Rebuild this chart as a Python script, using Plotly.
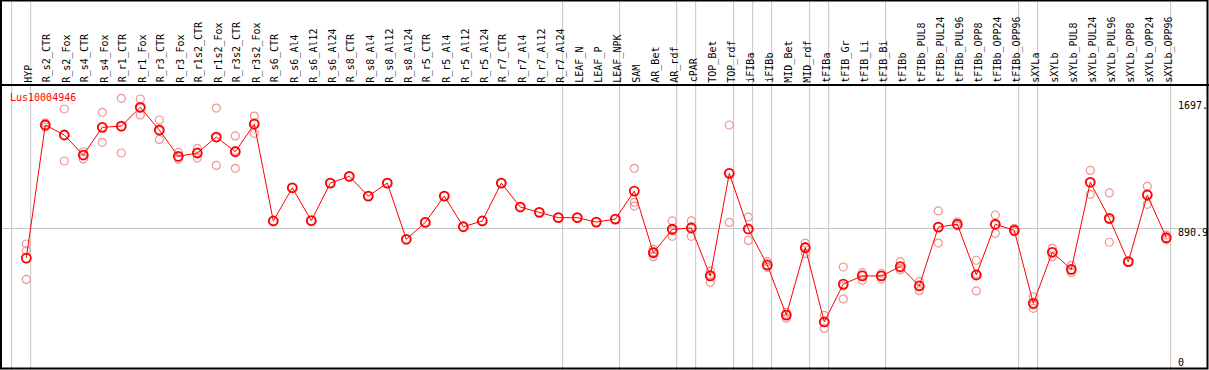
import plotly.graph_objects as go

W, H = 1209, 370

categories = ["HYP", "R_s2_CTR", "R_s2_Fox", "R_s4_CTR", "R_s4_Fox", "R_r1_CTR", "R_r1_Fox",
              "R_r3_CTR", "R_r3_Fox", "R_r1s2_CTR", "R_r1s2_Fox", "R_r3s2_CTR", "R_r3s2_Fox",
              "R_s6_CTR", "R_s6_Al4", "R_s6_Al12", "R_s6_Al24", "R_s8_CTR", "R_s8_Al4",
              "R_s8_Al12", "R_s8_Al24", "R_r5_CTR", "R_r5_Al4", "R_r5_Al12", "R_r5_Al24",
              "R_r7_CTR", "R_r7_Al4", "R_r7_Al12", "R_r7_Al24", "LEAF_N", "LEAF_P", "LEAF_NPK",
              "SAM", "AR_Bet", "AR_rdf", "cPAR", "TOP_Bet", "TOP_rdf", "iFIBa", "iFIBb",
              "MID_Bet", "MID_rdf", "tFIBa", "tFIB_Gr", "tFIB_Li", "tFIB_Bi", "tFIBb",
              "tFIBb_PUL8", "tFIBb_PUL24", "tFIBb_PUL96", "tFIBb_OPP8", "tFIBb_OPP24",
              "tFIBb_OPP96", "sXYLa", "sXYLb", "sXYLb_PUL8", "sXYLb_PUL24", "sXYLb_PUL96",
              "sXYLb_OPP8", "sXYLb_OPP24", "sXYLb_OPP96"]

means = [702, 1552, 1488, 1360, 1537, 1545, 1665, 1520, 1352, 1373, 1475, 1381, 1558,
         939, 1151, 941, 1181, 1224, 1098, 1181, 822, 930, 1098, 902, 939,
         1181, 1028, 994, 960, 960, 932, 951,
         1130, 736, 886, 894, 588, 1243, 888, 658, 338, 768, 294, 536, 588, 588, 647,
         524, 900, 918, 594, 918, 879, 413, 739, 630, 1186, 956, 679, 1105, 832]

rep_a = [792, 1566, 1654, 1381, 1633, 1722, 1718, 1584, 1377, 1403, 1660, 1482, 1609,
         939, 1151, 941, 1181, 1224, 1098, 1181, 822, 930, 1098, 902, 939,
         1181, 1028, 994, 960, 960, 932, 951,
         1275, 758, 939, 939, 619, 1552, 964, 679, 356, 798, 336, 645, 609, 605, 679,
         551, 1003, 934, 688, 977, 892, 455, 764, 656, 1262, 1118, 679, 1160, 849]
rep_b = [749, 1552, 1322, 1335, 1441, 1373, 1616, 1460, 1333, 1341, 1294, 1275, 1499,
         None, None, None, None, None, None, None, None, None, None, None, None,
         None, None, None, None, None, None, None,
         1058, 711, 841, 841, 547, 930, 815, 643, 317, 732, 253, 441, 560, 568, 626,
         494, 798, 911, 492, 860, 870, 381, 711, 609, 1109, 803, 679, 1045, 828]
rep_c = [566, 1539, 1488, 1360, 1537, 1541, 1660, 1515, 1347, 1375, 1471, 1388, 1566,
         None, None, None, None, None, None, None, None, None, None, None, None,
         None, None, None, None, None, None, None,
         1034, 741, 877, 902, 596, 1247, 883, 651, 343, 775, 292, 524, 594, 589, 637,
         526, 900, 907, 602, 915, 875, 402, 741, 626, 1186, 947, 679, 1109, 819]

group_separators = [-1, 0, 28, 31, 34, 35, 37, 38, 39, 41, 42, 45, 52, 53, 60]
axis_labels = ["1697.", "890.9", "0"]
axis_values = [1697, 890.9, 0]
gene_name = "Lus10004946"

# pixel geometry helpers (layout only)
X0, DX = 26.3, 19.0
Y_ZERO, SCALE = 368.0, 0.15658
xr = [-X0 / DX, (W - X0) / DX]
yr = [(Y_ZERO - H) / SCALE, Y_ZERO / SCALE]

def px(xp):
    return xp / W

def py(yp):
    return 1 - yp / H

idx = list(range(len(categories)))
font = dict(family="DejaVu Sans Mono", size=10, color="black")

fig = go.Figure()
pink = "rgb(238,150,150)"
for reps in (rep_a, rep_b, rep_c):
    fig.add_trace(go.Scatter(x=idx, y=reps, mode="markers",
                             marker=dict(symbol="circle-open", size=8, color=pink,
                                         line=dict(width=1.2, color=pink)),
                             showlegend=False, hoverinfo="skip"))
fig.add_trace(go.Scatter(x=idx, y=means, mode="lines+markers",
                         line=dict(color="red", width=1),
                         marker=dict(symbol="circle-open", size=9, color="red",
                                     line=dict(width=1.8, color="red")),
                         showlegend=False))

shapes = []
for g in group_separators:
    shapes.append(dict(type="line", xref="x", yref="paper", x0=g + 0.23, x1=g + 0.23,
                       y0=0, y1=1, line=dict(color="#c4c4c4", width=1), layer="below"))
shapes.append(dict(type="line", xref="paper", yref="y", x0=0, x1=1, y0=axis_values[1],
                   y1=axis_values[1], line=dict(color="#c4c4c4", width=1), layer="below"))
# frame
shapes.append(dict(type="rect", xref="paper", yref="paper", x0=px(1), x1=px(1207.5),
                   y0=py(368.5), y1=py(0.5), line=dict(color="black", width=2)))
shapes.append(dict(type="line", xref="paper", yref="paper", x0=0, x1=1,
                   y0=py(85), y1=py(85), line=dict(color="black", width=2)))

annotations = []
for i, c in enumerate(categories):
    annotations.append(dict(x=i + 0.1, y=py(83.5), xref="x", yref="paper", text=c,
                            textangle=-90, showarrow=False, xanchor="center",
                            yanchor="bottom", font=font, borderpad=0))
label_y = [106, 232, 362]
for t, yy in zip(axis_labels, label_y):
    annotations.append(dict(x=px(1177), y=py(yy), xref="paper", yref="paper", text=t,
                            showarrow=False, xanchor="left", yanchor="middle",
                            font=font, borderpad=0))
annotations.append(dict(x=px(8.5), y=py(97), xref="paper", yref="paper", text=gene_name,
                        showarrow=False, xanchor="left", yanchor="middle",
                        font=dict(family="DejaVu Sans Mono", size=10, color="red"),
                        borderpad=0))

fig.update_layout(width=W, height=H, autosize=False,
                  margin=dict(l=0, r=0, t=0, b=0, pad=0),
                  paper_bgcolor="white", plot_bgcolor="white",
                  xaxis=dict(range=xr, visible=False, showgrid=False, zeroline=False),
                  yaxis=dict(range=yr, visible=False, showgrid=False, zeroline=False),
                  shapes=shapes, annotations=annotations)

fig.write_html("out.html", config={"displayModeBar": False},
               post_script="document.body.style.margin='0';")
